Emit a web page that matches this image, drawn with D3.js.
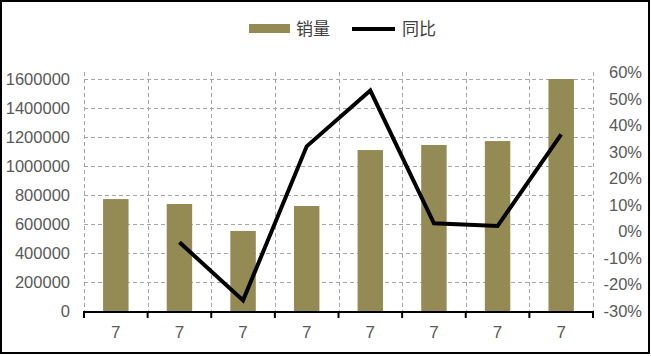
<!DOCTYPE html>
<html>
<head>
<meta charset="utf-8">
<script src="https://cdn.jsdelivr.net/npm/d3@7"></script>
<style>
  body { margin: 0; background: #fff; }
  text { font-family: "Liberation Sans", Arial, sans-serif; fill: #595959; }
  .legend text { font-family: "Noto Sans CJK SC", sans-serif; fill: #404040; }
</style>
</head>
<body>
<svg id="chart" width="651" height="356"></svg>
<script>
// data
const categories = ["7", "7", "7", "7", "7", "7", "7", "7"];
const sales = [772000, 738000, 552000, 724000, 1110000, 1145000, 1172000, 1600000];
const yoy = [null, -0.041, -0.26, 0.32, 0.53, 0.03, 0.02, 0.365];
const leftTicks = [0, 200000, 400000, 600000, 800000, 1000000, 1200000, 1400000, 1600000];
const rightTicks = [-0.3, -0.2, -0.1, 0, 0.1, 0.2, 0.3, 0.4, 0.5, 0.6];

const svg = d3.select("#chart");
const plotLeft = 84, plotRight = 593, plotTop = 72, plotBottom = 311;

// rand om de afbeelding
svg.append("rect")
  .attr("x", 1).attr("y", 1)
  .attr("width", 648).attr("height", 352)
  .attr("fill", "none").attr("stroke", "#000").attr("stroke-width", 2);

const x = d3.scaleBand().domain(d3.range(categories.length)).range([plotLeft, plotRight]);
const yL = d3.scaleLinear().domain([0, 1600000]).range([plotBottom, 79]);
const yR = d3.scaleLinear().domain([-0.3, 0.6]).range([plotBottom, plotTop]);

// grid
const grid = svg.append("g")
  .attr("stroke", "#a6a6a6").attr("stroke-dasharray", "4,3").attr("stroke-width", 1);
grid.selectAll(".h").data(leftTicks.slice(1)).join("line")
  .attr("x1", plotLeft).attr("x2", plotRight)
  .attr("y1", d => Math.round(yL(d)) + 0.5).attr("y2", d => Math.round(yL(d)) + 0.5);
grid.selectAll(".v").data(d3.range(categories.length + 1)).join("line")
  .attr("x1", i => Math.round(plotLeft + i * x.step()) + 0.5)
  .attr("x2", i => Math.round(plotLeft + i * x.step()) + 0.5)
  .attr("y1", plotTop).attr("y2", plotBottom);

// bars
const bw = x.step() * 0.4;
svg.append("g").selectAll("rect").data(sales).join("rect")
  .attr("x", (d, i) => x(i) + x.bandwidth() / 2 - bw / 2)
  .attr("y", d => yL(d))
  .attr("width", bw)
  .attr("height", d => plotBottom - yL(d))
  .attr("fill", "#948a54");

// x-as
svg.append("line")
  .attr("x1", plotLeft - 1).attr("x2", plotRight + 1)
  .attr("y1", plotBottom + 1).attr("y2", plotBottom + 1)
  .attr("stroke", "#000").attr("stroke-width", 2);
svg.append("g").selectAll("line").data(d3.range(categories.length + 1)).join("line")
  .attr("x1", i => plotLeft + i * x.step()).attr("x2", i => plotLeft + i * x.step())
  .attr("y1", plotBottom).attr("y2", plotBottom + 7)
  .attr("stroke", "#000").attr("stroke-width", 2);
svg.append("g").selectAll("text").data(categories).join("text")
  .attr("x", (d, i) => x(i) + x.bandwidth() / 2)
  .attr("y", 338)
  .attr("text-anchor", "middle")
  .attr("font-size", 17)
  .text(d => d);

// linker as labels
svg.append("g").selectAll("text").data(leftTicks).join("text")
  .attr("x", 70).attr("y", d => yL(d) + 6)
  .attr("text-anchor", "end").attr("font-size", 16.5)
  .text(d => d);

// rechter as labels
svg.append("g").selectAll("text").data(rightTicks).join("text")
  .attr("x", 642).attr("y", d => yR(d) + 6)
  .attr("text-anchor", "end").attr("font-size", 16.5)
  .text(d => Math.round(d * 100) + "%");

// lijn
const line = d3.line()
  .defined(d => d !== null)
  .x((d, i) => x(i) + x.bandwidth() / 2)
  .y(d => yR(d));
svg.append("path").datum(yoy)
  .attr("d", line)
  .attr("fill", "none").attr("stroke", "#000").attr("stroke-width", 4)
  .attr("stroke-linejoin", "miter");

// legenda
const lg = svg.append("g").attr("class", "legend");
lg.append("rect").attr("x", 249).attr("y", 24).attr("width", 41).attr("height", 9).attr("fill", "#948a54");
lg.append("text").attr("x", 296).attr("y", 35).attr("font-size", 17).text("销量");
lg.append("line").attr("x1", 352).attr("x2", 395).attr("y1", 29).attr("y2", 29)
  .attr("stroke", "#000").attr("stroke-width", 4);
lg.append("text").attr("x", 402).attr("y", 35).attr("font-size", 17).text("同比");
</script>
</body>
</html>
